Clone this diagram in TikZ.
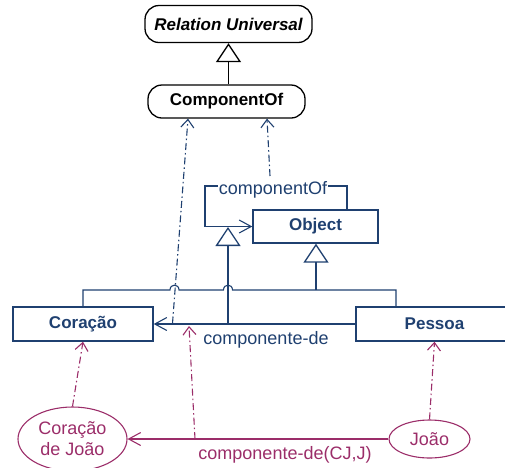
\documentclass[tikz,border=0pt]{standalone}
\usepackage{fontspec}
\setmainfont{Liberation Sans}
\usetikzlibrary{arrows.meta,shapes.geometric}
\definecolor{umlblue}{RGB}{31,64,112}
\definecolor{instmag}{RGB}{155,45,105}
\tikzset{
  bigbold/.style={font=\fontsize{17}{20}\selectfont\bfseries},
  plain/.style={font=\fontsize{18}{22}\selectfont},
  relbox/.style={draw=black, line width=1.3pt, rounded corners=14pt, inner sep=0pt, bigbold},
  classbox/.style={draw=umlblue, line width=1.4pt, text=umlblue, inner sep=0pt, bigbold},
  instance/.style={ellipse, draw=instmag, line width=1.1pt, text=instmag, inner sep=0pt, plain, align=center},
  bline/.style={draw=umlblue, line width=1.1pt},
  mline/.style={draw=instmag, line width=1.1pt},
  dashdot/.style={dash pattern=on 7pt off 3pt on 1.5pt off 3pt},
  barb/.style={-{Straight Barb[length=8pt,width=13pt,line width=1.1pt]}},
  longbarb/.style={-{Straight Barb[length=12pt,width=13pt,line width=1.1pt]}},
  gen/.style={-{Triangle[open,length=19pt,width=25pt,line width=1.3pt]}},
}
\begin{document}
\begin{tikzpicture}[x=1pt,y=-1pt]
\useasboundingbox (0,0) rectangle (505,467);

% relation universals
\node[relbox, minimum width=167pt, minimum height=37pt] (ru) at (228.5,24)
  {\itshape Relation Universal};
\node[relbox, minimum width=157pt, minimum height=33pt] (co) at (226.5,101.5) {ComponentOf};

% classes
\node[classbox, minimum width=125pt, minimum height=33pt] (obj) at (315.5,226.5) {Object};
\node[classbox, minimum width=140pt, minimum height=34pt] (cor) at (83,324) {Coração};
\node[classbox, minimum width=157pt, minimum height=34pt] (pes) at (434.5,324) {Pessoa};

% instances
\node[instance, minimum width=109pt, minimum height=64pt] (cj) at (72.5,439)
  {Coração\\[-1pt]de João};
\node[instance, minimum width=81pt, minimum height=38pt] (jo) at (429.5,439) {João};

% ComponentOf specialises Relation Universal
\draw[draw=black, line width=1.1pt, gen] (ru.south |- co.north) -- (ru.south);

% self association componentOf on Object
\coordinate (lpR) at (347,186);
\coordinate (lpL) at (205,186);
\draw[bline, longbarb] (lpR |- obj.north) -- (lpR) -- (lpL) -- (lpL |- obj.west) -- (obj.west);
\node[plain, text=umlblue, fill=white, inner sep=1pt] (lbl) at (273,190) {componentOf};

% association componente-de between Pessoa and Coração
\draw[bline, longbarb] (pes.west) -- (cor.east);
\node[plain, text=umlblue] (cdl) at (266,340) {componente-de};
\coordinate (aA) at (172.5,323.5);
\coordinate (aB) at (228,323.5);
\coordinate (aM) at (189,326);
\coordinate (loopB) at (228,227);

% generalisations into Object, with hops over the crossing lines
\coordinate (gsplit) at (316,290);
\coordinate (pj) at (396,290);
\draw[bline] (cor.north) -- (83,290) -- (170,290)
  .. controls (170,283.5) and (179,283.5) .. (179,290) -- (223.5,290)
  .. controls (223.5,283.5) and (232.5,283.5) .. (232.5,290) -- (gsplit) -- (pj) -- (pj |- pes.north);
\draw[bline, gen] (gsplit) -- (gsplit |- obj.south);

% componente-de specialises componentOf
\draw[bline, gen] (aB) -- (loopB);

% instantiation of ComponentOf
\coordinate (lt) at (270,176);
\coordinate (coL) at (188,0);
\coordinate (coR) at (267,0);
\draw[bline, dashdot, barb] (aA) -- (co.south -| coL);
\draw[bline, dashdot, barb] (lt) -- (co.south -| coR);

% instance level link
\draw[mline, longbarb] (jo.west) -- (cj.east);
\node[plain, text=instmag] (cjl) at (285,455) {componente-de(CJ,J)};
\coordinate (lM) at (195,439);
\draw[mline, dashdot, barb] (cj.north) -- (cor.south);
\draw[mline, dashdot, barb] (jo.north) -- (pes.south);
\draw[mline, dashdot, barb] (lM) -- (aM);
\end{tikzpicture}
\end{document}
